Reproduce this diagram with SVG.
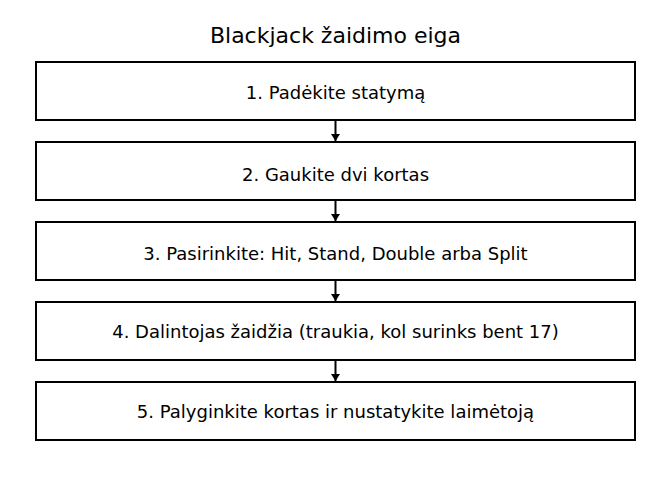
<svg xmlns="http://www.w3.org/2000/svg" width="671" height="478" viewBox="0 0 671 478">
<defs>
<style>
.box{fill:#fff;stroke:#000;stroke-width:2}
.t{font-family:"DejaVu Sans",sans-serif;font-size:18px;fill:#000;text-anchor:middle}
.title{font-family:"DejaVu Sans",sans-serif;font-size:22px;fill:#000;text-anchor:middle}
.c{stroke:#000;stroke-width:2;fill:none}
</style>
<marker id="ah" markerWidth="7" markerHeight="9" refX="7" refY="4.5" orient="auto" markerUnits="userSpaceOnUse">
<path d="M0,0 L7,4.5 L0,9 Z" fill="#000"/>
</marker>
</defs>
<rect width="671" height="478" fill="#fff"/>
<text class="title" x="335.5" y="43">Blackjack žaidimo eiga</text>
<g id="connectors">
<line class="c" x1="335.5" y1="121" x2="335.5" y2="141" marker-end="url(#ah)"/>
<line class="c" x1="335.5" y1="201" x2="335.5" y2="221" marker-end="url(#ah)"/>
<line class="c" x1="335.5" y1="281" x2="335.5" y2="301" marker-end="url(#ah)"/>
<line class="c" x1="335.5" y1="361" x2="335.5" y2="381" marker-end="url(#ah)"/>
</g>
<g id="n1"><rect class="box" x="36" y="62" width="599" height="58"/><text class="t" x="335.5" y="99">1. Padėkite statymą</text></g>
<g id="n2"><rect class="box" x="36" y="142" width="599" height="58"/><text class="t" x="335.5" y="181">2. Gaukite dvi kortas</text></g>
<g id="n3"><rect class="box" x="36" y="222" width="599" height="58"/><text class="t" x="335.5" y="260">3. Pasirinkite: Hit, Stand, Double arba Split</text></g>
<g id="n4"><rect class="box" x="36" y="302" width="599" height="58"/><text class="t" x="335.5" y="338">4. Dalintojas žaidžia (traukia, kol surinks bent 17)</text></g>
<g id="n5"><rect class="box" x="36" y="382" width="599" height="58"/><text class="t" x="335.5" y="418">5. Palyginkite kortas ir nustatykite laimėtoją</text></g>
</svg>
